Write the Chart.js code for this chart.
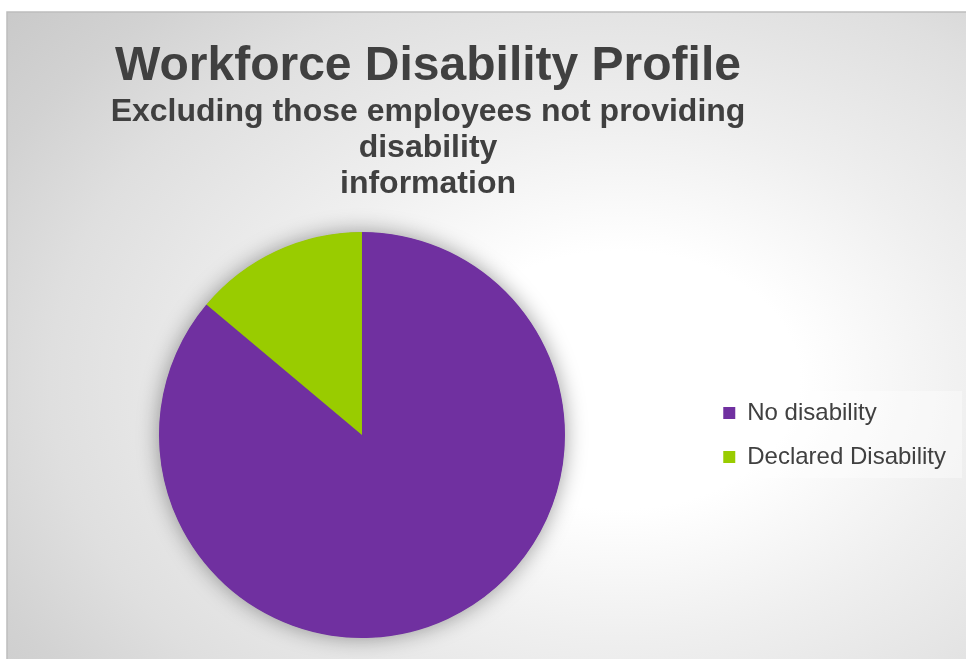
<!DOCTYPE html>
<html>
<head>
<meta charset="utf-8">
<title>Workforce Disability Profile</title>
<script src="https://cdn.jsdelivr.net/npm/chart.js@4/dist/chart.umd.min.js"></script>
<style>
  html, body { margin: 0; padding: 0; background: #ffffff; }
  #wrap { width: 966px; height: 659px; }
</style>
</head>
<body>
<div id="wrap"><canvas id="chart" width="966" height="659"></canvas></div>
<script>
// Chart data
const categories = ['No disability', 'Declared Disability'];
const shares = [86.1, 13.9];
const sliceColors = ['#7030A0', '#99CC00'];
const titleText = 'Workforce Disability Profile';
const subtitleLines = ['Excluding those employees not providing', 'disability', 'information'];

const FONT = '"Liberation Sans", Arial, Helvetica, sans-serif';
const TEXT_COLOR = '#404040';

// Frame with soft radial shading, legend panel behind the legend entries
const backdrop = {
  id: 'backdrop',
  beforeDraw(chart) {
    const ctx = chart.ctx;
    const W = chart.width, H = chart.height;
    ctx.save();
    ctx.fillStyle = '#ffffff';
    ctx.fillRect(0, 0, W, H);

    const fx = 7, fy = 12;
    const cx = 620, cy = 380, rx = 600, ry = 430;
    ctx.save();
    ctx.beginPath();
    ctx.rect(fx, fy, W - fx, H - fy);
    ctx.clip();
    ctx.translate(cx, cy);
    ctx.scale(1, ry / rx);
    const R = rx * 1.4;
    const g = ctx.createRadialGradient(0, 0, 0, 0, 0, R);
    g.addColorStop(0, '#ffffff');
    g.addColorStop(0.3 / 1.4, '#ffffff');
    g.addColorStop(0.6 / 1.4, '#efefef');
    g.addColorStop(0.95 / 1.4, '#dfdfdf');
    g.addColorStop(1.15 / 1.4, '#d2d2d2');
    g.addColorStop(1, '#c6c6c6');
    ctx.fillStyle = g;
    ctx.fillRect(-cx - 10, -(cy + 10) * rx / ry, W + 20, (H + 20) * rx / ry);
    ctx.restore();

    // frame edges
    ctx.strokeStyle = '#bdbdbd';
    ctx.lineWidth = 1.5;
    ctx.beginPath();
    ctx.moveTo(fx, H);
    ctx.lineTo(fx, fy);
    ctx.lineTo(W, fy);
    ctx.stroke();

    // legend panel
    const boxes = chart.legend && chart.legend.legendHitBoxes;
    if (boxes && boxes.length) {
      const first = boxes[0], last = boxes[boxes.length - 1];
      const left = first.left - 7;
      const top = first.top - 10;
      const bottom = last.top + last.height + 9;
      const right = W - 4;
      ctx.fillStyle = 'rgba(255,255,255,0.4)';
      ctx.fillRect(left, top, right - left, bottom - top);
    }
    ctx.restore();
  }
};

// Soft shadow under the pie
const pieShadow = {
  id: 'pieShadow',
  beforeDatasetsDraw(chart) {
    const meta = chart.getDatasetMeta(0);
    if (!meta.data.length) return;
    const arc = meta.data[0];
    const ctx = chart.ctx;
    ctx.save();
    ctx.shadowColor = 'rgba(0,0,0,0.4)';
    ctx.shadowBlur = 22;
    ctx.fillStyle = sliceColors[0];
    ctx.beginPath();
    ctx.arc(arc.x, arc.y, arc.outerRadius - 0.5, 0, Math.PI * 2);
    ctx.fill();
    ctx.restore();
  }
};

// Title block drawn above the pie
const titleBlock = {
  id: 'titleBlock',
  afterDraw(chart, args, opts) {
    const ctx = chart.ctx;
    ctx.save();
    ctx.fillStyle = TEXT_COLOR;
    ctx.textAlign = 'center';
    ctx.textBaseline = 'alphabetic';
    ctx.font = 'bold 48px ' + FONT;
    ctx.fillText(titleText, opts.x, opts.titleBaseline);
    ctx.font = 'bold 32px ' + FONT;
    subtitleLines.forEach((line, i) => {
      ctx.fillText(line, opts.x, opts.subBaseline + i * opts.lineGap);
    });
    ctx.restore();
  }
};

new Chart(document.getElementById('chart'), {
  type: 'pie',
  data: {
    labels: categories,
    datasets: [{
      data: shares,
      backgroundColor: sliceColors,
      borderWidth: 0
    }]
  },
  options: {
    responsive: false,
    animation: false,
    layout: { padding: { top: 232, bottom: 21, left: 20.7, right: 10 } },
    plugins: {
      tooltip: { enabled: false },
      legend: {
        position: 'right',
        align: 'center',
        labels: {
          boxWidth: 12,
          boxHeight: 12,
          padding: 20,
          color: TEXT_COLOR,
          font: { family: FONT, size: 24 }
        }
      },
      titleBlock: { x: 428, titleBaseline: 80, subBaseline: 121, lineGap: 36 }
    }
  },
  plugins: [backdrop, pieShadow, titleBlock]
});
</script>
</body>
</html>
